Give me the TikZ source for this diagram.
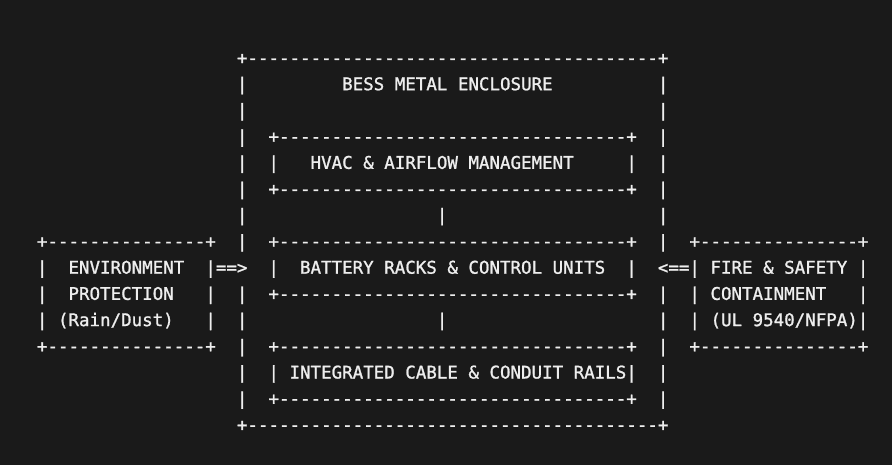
\documentclass[tikz,border=0pt]{standalone}
\usepackage{fontspec}
\newfontfamily\asciimono[FakeBold=1.2]{DejaVu Sans Mono}
\definecolor{bgc}{HTML}{1A1A1A}
\definecolor{fgc}{HTML}{EEEEEE}
\newlength\cw
\setlength\cw{10.525bp}
\newcommand\gap[1]{\hspace*{#1\cw}}
\ExplSyntaxOn
\cs_new:Npn \dashes #1 { \prg_replicate:nn {#1} {-} }
\ExplSyntaxOff
\tikzset{
  asc/.style={anchor=base west, inner sep=0pt, outer sep=0pt, text=fgc,
    font=\asciimono\fontsize{17.482bp}{20bp}\selectfont}
}
\newcommand\rowy[1]{64+26.21*#1}
\begin{document}
\begin{tikzpicture}[x=1bp,y=-1bp]
\fill[bgc] (0,0) rectangle (892,465);
\node[asc] (l0) at (36.94,{\rowy{0}}) {\gap{19}+\dashes{39}+};
\node[asc] (l1) at (36.94,{\rowy{1}}) {\gap{19}|\gap{9}BESS METAL ENCLOSURE\gap{10}|};
\node[asc] (l2) at (36.94,{\rowy{2}}) {\gap{19}|\gap{39}|};
\node[asc] (l3) at (36.94,{\rowy{3}}) {\gap{19}|\gap{2}+\dashes{33}+\gap{2}|};
\node[asc] (l4) at (36.94,{\rowy{4}}) {\gap{19}|\gap{2}|\gap{3}HVAC \& AIRFLOW MANAGEMENT\gap{5}|\gap{2}|};
\node[asc] (l5) at (36.94,{\rowy{5}}) {\gap{19}|\gap{2}+\dashes{33}+\gap{2}|};
\node[asc] (l6) at (36.94,{\rowy{6}}) {\gap{19}|\gap{18}|\gap{20}|};
\node[asc] (l7) at (36.94,{\rowy{7}}) {+\dashes{15}+\gap{2}|\gap{2}+\dashes{33}+\gap{2}|\gap{2}+\dashes{15}+};
\node[asc] (l8) at (36.94,{\rowy{8}}) {|\gap{2}ENVIRONMENT\gap{2}|==>\gap{2}|\gap{2}BATTERY RACKS \& CONTROL UNITS\gap{2}|\gap{2}<==|\gap{1}FIRE \& SAFETY\gap{1}|};
\node[asc] (l9) at (36.94,{\rowy{9}}) {|\gap{2}PROTECTION\gap{3}|\gap{2}|\gap{2}+\dashes{33}+\gap{2}|\gap{2}|\gap{1}CONTAINMENT\gap{3}|};
\node[asc] (l10) at (36.94,{\rowy{10}}) {|\gap{1}(Rain/Dust)\gap{3}|\gap{2}|\gap{18}|\gap{20}|\gap{2}|\gap{1}(UL 9540/NFPA)|};
\node[asc] (l11) at (36.94,{\rowy{11}}) {+\dashes{15}+\gap{2}|\gap{2}+\dashes{33}+\gap{2}|\gap{2}+\dashes{15}+};
\node[asc] (l12) at (36.94,{\rowy{12}}) {\gap{19}|\gap{2}|\gap{1}INTEGRATED CABLE \& CONDUIT RAILS|\gap{2}|};
\node[asc] (l13) at (36.94,{\rowy{13}}) {\gap{19}|\gap{2}+\dashes{33}+\gap{2}|};
\node[asc] (l14) at (36.94,{\rowy{14}}) {\gap{19}+\dashes{39}+};
\end{tikzpicture}
\end{document}
